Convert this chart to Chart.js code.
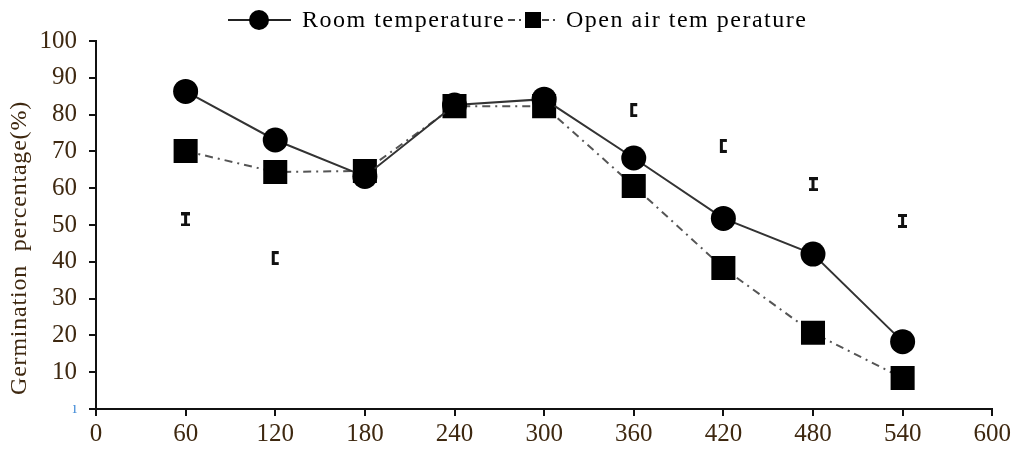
<!DOCTYPE html>
<html>
<head>
<meta charset="utf-8">
<script src="https://cdn.jsdelivr.net/npm/chart.js@4/dist/chart.umd.min.js"></script>
<style>
  html, body { margin: 0; padding: 0; background: #fff; }
  #wrap { width: 1014px; height: 454px; position: relative; }
</style>
</head>
<body>
<div id="wrap"><canvas id="chart"></canvas></div>
<script>
// sowing time (x) and germination %
const minutes = [60, 120, 180, 240, 300, 360, 420, 480, 540];
const roomTemp = [86.3, 73.1, 63.2, 82.6, 84.2, 68.2, 51.8, 42.1, 18.3];
const openAirTemp = [70.1, 64.4, 64.7, 82.3, 82.3, 60.6, 38.3, 20.7, 8.4];

// stray error bar marks floating in the plot
const errX = [60, 120, 360, 420, 480, 540];
const errY = [51.5, 41.0, 81.2, 71.5, 61.1, 51.1];
const errShape = ['I', 'C', 'C', 'C', 'I', 'I'];

const xTicks = [0, 60, 120, 180, 240, 300, 360, 420, 480, 540, 600];
const yTitle = 'Germination  percentage(%)';

const labelColor = '#3e2810';
const serif = "'Liberation Serif', 'DejaVu Serif', serif";

// little I / [ shaped marker
function errMark(kind) {
  const c = document.createElement('canvas');
  c.width = 9; c.height = 14;
  const g = c.getContext('2d');
  g.fillStyle = '#111';
  if (kind === 'I') {
    g.fillRect(0, 0, 9, 3);
    g.fillRect(0, 11, 9, 3);
    g.fillRect(3, 0, 3, 14);
  } else {
    g.fillRect(1, 0, 7, 3);
    g.fillRect(1, 11, 7, 3);
    g.fillRect(1, 0, 3, 14);
  }
  return c;
}
const marks = { I: errMark('I'), C: errMark('C') };

// legend drawn like the original: line through marker, plus the y title
const lineLegend = {
  id: 'lineLegend',
  afterDraw(chart) {
    const ctx = chart.ctx;
    const y = 20;
    ctx.save();
    ctx.font = '24px ' + serif;
    ctx.fillStyle = '#000';
    ctx.textBaseline = 'middle';

    ctx.strokeStyle = '#222';
    ctx.lineWidth = 2;
    ctx.beginPath(); ctx.moveTo(228, y); ctx.lineTo(291, y); ctx.stroke();
    ctx.beginPath(); ctx.arc(259, y, 10, 0, Math.PI * 2); ctx.fill();
    ctx.letterSpacing = '1.5px';
    ctx.fillText('Room temperature', 302, y + 1);

    ctx.setLineDash([7, 4, 2, 4]);
    ctx.strokeStyle = '#444';
    ctx.beginPath(); ctx.moveTo(508, y); ctx.lineTo(556, y); ctx.stroke();
    ctx.setLineDash([]);
    ctx.fillRect(525, y - 8, 16, 16);
    ctx.fillText('Open air tem perature', 566, y + 1);
    ctx.restore();

    // y axis title, sits a bit below the plot centre in the original
    ctx.save();
    ctx.translate(20, 248);
    ctx.rotate(-Math.PI / 2);
    ctx.font = '24px ' + serif;
    ctx.fillStyle = labelColor;
    ctx.textAlign = 'center';
    ctx.textBaseline = 'middle';
    ctx.letterSpacing = '0.8px';
    ctx.fillText(yTitle, 0, 0);
    ctx.restore();
  }
};

new Chart(document.getElementById('chart'), {
  type: 'line',
  data: {
    datasets: [
      {
        label: 'Room temperature',
        data: minutes.map((m, i) => ({ x: m, y: roomTemp[i] })),
        borderColor: '#333',
        borderWidth: 2,
        backgroundColor: '#000',
        pointStyle: 'circle',
        pointRadius: 12.5,
        pointBorderWidth: 0,
        order: 1
      },
      {
        label: 'Open air temperature',
        data: minutes.map((m, i) => ({ x: m, y: openAirTemp[i] })),
        borderColor: '#555',
        borderWidth: 2,
        borderDash: [8, 5, 2, 5],
        backgroundColor: '#000',
        pointStyle: 'rect',
        pointRadius: 17,
        pointBorderWidth: 0,
        order: 2
      },
      {
        label: 'err',
        data: errX.map((m, i) => ({ x: m, y: errY[i] })),
        showLine: false,
        pointStyle: errShape.map(k => marks[k]),
        order: 0
      }
    ]
  },
  options: {
    responsive: true,
    maintainAspectRatio: false,
    animation: false,
    layout: { padding: { top: 41, right: 21, left: 0, bottom: 0 } },
    plugins: {
      legend: { display: false },
      tooltip: { enabled: false }
    },
    scales: {
      x: {
        type: 'linear',
        min: 0,
        max: 600,
        afterBuildTicks: s => { s.ticks = xTicks.map(v => ({ value: v })); },
        afterFit: s => { s.height = 45; },
        border: { display: true, color: '#111', width: 2 },
        grid: { display: true, drawOnChartArea: false, drawTicks: true, tickLength: 7, color: '#111', lineWidth: 2 },
        ticks: {
          color: labelColor,
          padding: 3,
          font: { family: serif, size: 25 }
        }
      },
      y: {
        min: 0,
        max: 100,
        afterFit: s => { s.width = 96; },
        border: { display: true, color: '#111', width: 2 },
        grid: { display: true, drawOnChartArea: false, drawTicks: true, tickLength: 7, color: '#111', lineWidth: 2 },
        ticks: {
          stepSize: 10,
          padding: 12,
          color: c => (c.tick && c.tick.value === 0 ? '#4a90d9' : labelColor),
          font: c => ({ family: serif, size: c.tick && c.tick.value === 0 ? 16 : 25 }),
          callback: v => (v === 0 ? 'ı' : v)
        }
      }
    }
  },
  plugins: [lineLegend]
});
</script>
</body>
</html>
